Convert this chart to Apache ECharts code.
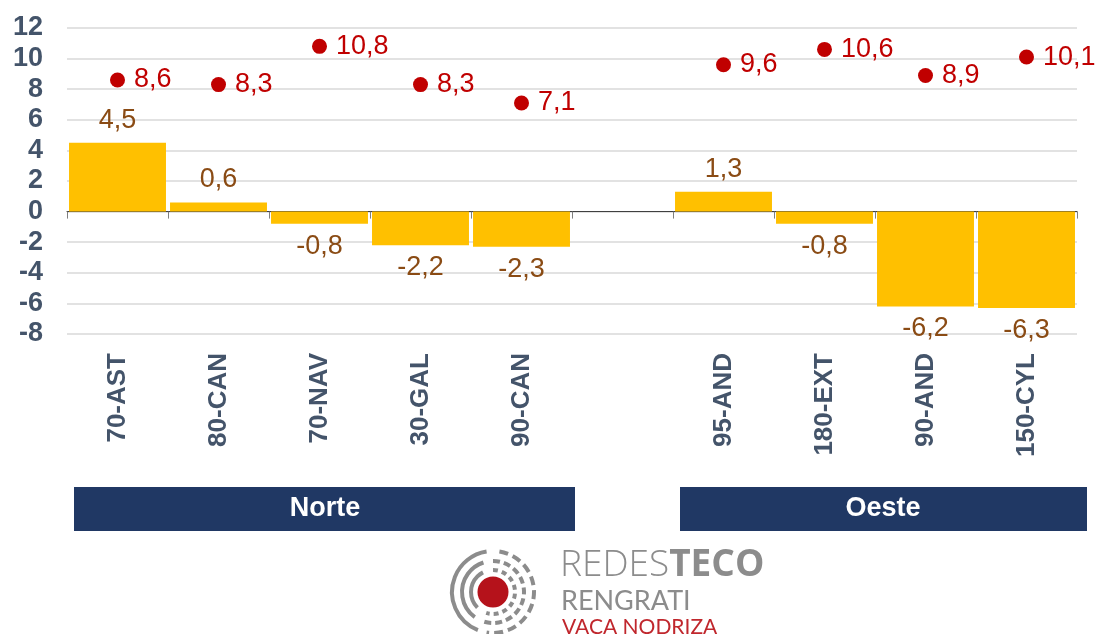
<!DOCTYPE html>
<html lang="es">
<head>
    <meta charset="UTF-8">
    <title>Norte / Oeste</title>
    <script src="https://cdn.jsdelivr.net/npm/echarts@6.0.0/dist/echarts.min.js"></script>
    <style>
        body { margin: 0; background: #fff; }
        #chart { width: 1096px; height: 634px; }
    </style>
</head>
<body>
    <div id="chart"></div>
    <script>
        // datos (hueco vacío entre Norte y Oeste)
        const categorias = ["70-AST", "80-CAN", "70-NAV", "30-GAL", "90-CAN", "", "95-AND", "180-EXT", "90-AND", "150-CYL"];
        const barras = [4.5, 0.6, -0.8, -2.2, -2.3, null, 1.3, -0.8, -6.2, -6.3];
        const puntos = [8.6, 8.3, 10.8, 8.3, 7.1, null, 9.6, 10.6, 8.9, 10.1];
        const grupos = ["Norte", "Oeste"];

        const fuente = "Liberation Sans, Arial, sans-serif";
        const fmt = v => String(v).replace(".", ",");

        let chart = echarts.init(document.getElementById("chart"));

        // barras con etiqueta arriba o abajo segun signo
        let datosBarras = barras.map(v => {
            if (v === null) return null;
            return { value: v, label: { position: v >= 0 ? "top" : "bottom" } };
        });

        chart.setOption({
            animation: false,
            textStyle: { fontFamily: fuente },
            grid: { left: 67, right: 19, top: 28, bottom: 300 },
            xAxis: [
                {
                    type: "category",
                    data: categorias,
                    axisLine: { onZero: true, lineStyle: { color: "#404040", width: 1 } },
                    axisTick: { show: true, length: 7, lineStyle: { color: "#7f7f7f" } },
                    axisLabel: { show: false }
                },
                {
                    type: "category",
                    data: categorias,
                    position: "bottom",
                    axisLine: { show: false, onZero: false },
                    axisTick: { show: false },
                    axisLabel: {
                        rotate: 90,
                        margin: 19,
                        interval: 0,
                        color: "#44546A",
                        fontSize: 26,
                        fontWeight: "bold",
                        fontFamily: fuente
                    }
                }
            ],
            yAxis: {
                type: "value",
                min: -8,
                max: 12,
                interval: 2,
                axisLine: { show: false },
                axisTick: { show: false },
                splitLine: { lineStyle: { color: "#d9d9d9", width: 1.5 } },
                axisLabel: {
                    margin: 24,
                    color: "#44546A",
                    fontSize: 27,
                    fontWeight: "bold",
                    fontFamily: fuente
                }
            },
            series: [
                {
                    type: "bar",
                    xAxisIndex: 0,
                    data: datosBarras,
                    barCategoryGap: "4%",
                    itemStyle: { color: "#FFC000" },
                    label: {
                        show: true,
                        distance: 9,
                        color: "#8A4B14",
                        fontSize: 27,
                        fontFamily: fuente,
                        formatter: p => fmt(p.value)
                    }
                },
                {
                    type: "scatter",
                    xAxisIndex: 0,
                    data: puntos,
                    symbol: "circle",
                    symbolSize: 15,
                    itemStyle: { color: "#C00000", opacity: 1 },
                    label: {
                        show: true,
                        position: "right",
                        distance: 9,
                        color: "#C00000",
                        fontSize: 27,
                        fontFamily: fuente,
                        formatter: p => fmt(p.value)
                    }
                }
            ],
            graphic: [
                // cajas de grupo
                { type: "rect", shape: { x: 74, y: 487, width: 501, height: 44 }, style: { fill: "#203864" } },
                { type: "rect", shape: { x: 680, y: 487, width: 407, height: 44 }, style: { fill: "#203864" } },
                { type: "text", x: 325, y: 509, style: { text: grupos[0], fill: "#fff", font: "bold 27px " + fuente, textAlign: "center", textVerticalAlign: "middle" } },
                { type: "text", x: 883, y: 509, style: { text: grupos[1], fill: "#fff", font: "bold 27px " + fuente, textAlign: "center", textVerticalAlign: "middle" } },
                // logo
                { type: "arc", shape: { cx: 493, cy: 592, r: 41, startAngle: Math.PI * 0.62, endAngle: Math.PI * 1.45 }, style: { stroke: "#8c8c8c", lineWidth: 4, fill: null } },
                { type: "arc", shape: { cx: 493, cy: 592, r: 31, startAngle: Math.PI * 0.7, endAngle: Math.PI * 1.4 }, style: { stroke: "#8c8c8c", lineWidth: 4, fill: null } },
                { type: "arc", shape: { cx: 493, cy: 592, r: 22, startAngle: Math.PI * 0.75, endAngle: Math.PI * 1.35 }, style: { stroke: "#8c8c8c", lineWidth: 4, fill: null } },
                { type: "arc", shape: { cx: 493, cy: 592, r: 41, startAngle: Math.PI * 1.55, endAngle: Math.PI * 2.55 }, style: { stroke: "#8c8c8c", lineWidth: 4, fill: null, lineDash: [9, 5] } },
                { type: "arc", shape: { cx: 493, cy: 592, r: 31, startAngle: Math.PI * 1.5, endAngle: Math.PI * 2.6 }, style: { stroke: "#8c8c8c", lineWidth: 4, fill: null, lineDash: [7, 4] } },
                { type: "arc", shape: { cx: 493, cy: 592, r: 22, startAngle: Math.PI * 1.5, endAngle: Math.PI * 2.6 }, style: { stroke: "#8c8c8c", lineWidth: 4, fill: null, lineDash: [5, 4] } },
                { type: "circle", shape: { cx: 493, cy: 592, r: 15.5 }, style: { fill: "#B5121B" } },
                {
                    type: "text", x: 560, y: 547,
                    style: {
                        text: "{a|REDES}{b|TECO}",
                        rich: {
                            a: { fill: "#8c8c8c", fontSize: 37, fontWeight: 300, fontFamily: "Open Sans, sans-serif" },
                            b: { fill: "#8c8c8c", fontSize: 37, fontWeight: "bold", fontFamily: "Open Sans, sans-serif" }
                        }
                    }
                },
                { type: "text", x: 561, y: 588, style: { text: "RENGRATI", fill: "#8c8c8c", font: "27px Lato, sans-serif" } },
                { type: "text", x: 562, y: 617, style: { text: "VACA NODRIZA", fill: "#C0272D", font: "21px Lato, sans-serif" } }
            ]
        });
    </script>
</body>
</html>
